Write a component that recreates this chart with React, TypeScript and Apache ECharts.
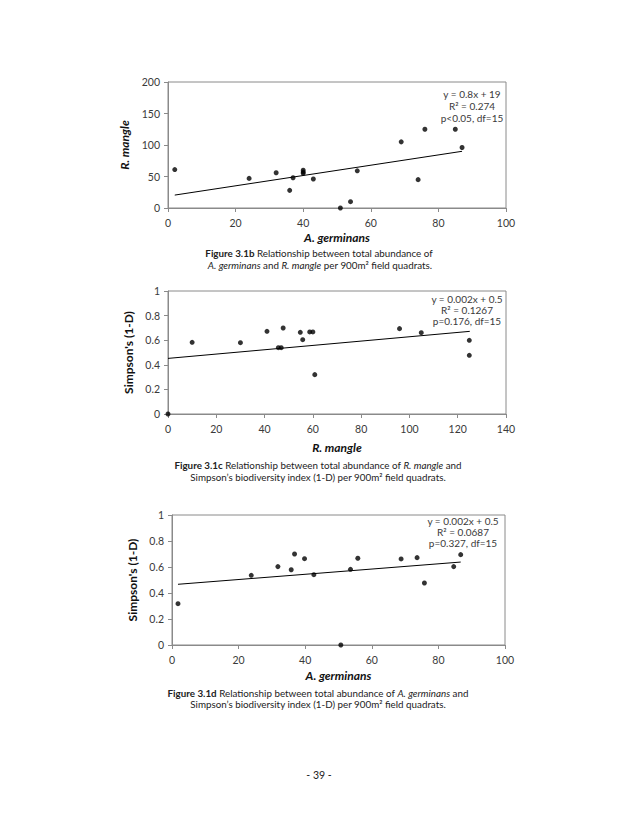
import React, { useEffect, useRef } from "react";
import * as echarts from "echarts";

// Figure 3.1b: A. germinans (x) vs R. mangle (y)
const fig1X = [2, 24, 32, 36, 37, 40, 40, 40, 43, 51, 54, 56, 69, 74, 76, 85, 87];
const fig1Y = [61, 47, 56, 28, 48, 60, 57, 55, 46, 0, 10, 59, 105, 45, 125, 125, 96];
const fig1Trend = [[2, 20.5], [87, 90]];
const fig1Stats = ["y = 0.8x + 19", "R² = 0.274", "p<0.05, df=15"];

// Figure 3.1c: R. mangle (x) vs Simpson's (1-D) (y)
const fig2X = [0, 10, 30, 41, 45.7, 46.9, 47.7, 54.8, 55.8, 58.7, 60, 60.8, 95.9, 104.9, 124.8, 124.8];
const fig2Y = [0, 0.583, 0.58, 0.672, 0.539, 0.539, 0.699, 0.664, 0.604, 0.667, 0.667, 0.32, 0.694, 0.661, 0.599, 0.477];
const fig2Trend = [[0, 0.452], [125, 0.672]];
const fig2Stats = ["y = 0.002x + 0.5", "R² = 0.1267", "p=0.176, df=15"];

// Figure 3.1d: A. germinans (x) vs Simpson's (1-D) (y)
const fig3X = [1.8, 23.8, 31.8, 35.8, 36.8, 39.8, 42.6, 50.7, 53.6, 55.8, 68.8, 73.6, 75.8, 84.6, 86.7];
const fig3Y = [0.318, 0.536, 0.603, 0.579, 0.7, 0.664, 0.541, 0, 0.582, 0.667, 0.662, 0.672, 0.477, 0.603, 0.695];
const fig3Trend = [[1.8, 0.467], [86.7, 0.638]];
const fig3Stats = ["y = 0.002x + 0.5", "R² = 0.0687", "p=0.327, df=15"];

const FONT = "Lato, 'Open Sans', sans-serif";
const AXIS_COLOR = "#8a8a8a";
const TEXT_COLOR = "#3a3a3a";

const pairs = (xs: number[], ys: number[]) => xs.map((x, i) => [x, ys[i]]);

function makeX(gridIndex: number, max: number, interval: number, name: string, nameGap: number) {
  return {
    type: "value",
    gridIndex,
    min: 0,
    max,
    interval,
    name,
    nameLocation: "middle",
    nameGap,
    nameTextStyle: { fontFamily: FONT, fontSize: 12, fontWeight: "bold", fontStyle: "italic", color: "#111" },
    axisLine: { show: true, onZero: false, lineStyle: { color: AXIS_COLOR, width: 1 } },
    axisTick: { show: true, length: 4, lineStyle: { color: AXIS_COLOR } },
    axisLabel: { fontFamily: FONT, fontSize: 10.5, color: TEXT_COLOR, margin: 9 },
    splitLine: { show: false },
  };
}

function makeY(gridIndex: number, max: number, interval: number, name: string, nameGap: number, italic: boolean) {
  return {
    type: "value",
    gridIndex,
    min: 0,
    max,
    interval,
    name,
    nameLocation: "middle",
    nameRotate: 90,
    nameGap,
    nameTextStyle: { fontFamily: FONT, fontSize: 12, fontWeight: "bold", fontStyle: italic ? "italic" : "normal", color: "#111" },
    axisLine: { show: true, onZero: false, lineStyle: { color: AXIS_COLOR, width: 1 } },
    axisTick: { show: true, length: 4, lineStyle: { color: AXIS_COLOR } },
    axisLabel: { fontFamily: FONT, fontSize: 10.5, color: TEXT_COLOR, margin: 8 },
    splitLine: { show: false },
  };
}

function scatter(i: number, xs: number[], ys: number[]) {
  return {
    type: "scatter",
    xAxisIndex: i,
    yAxisIndex: i,
    symbol: "circle",
    symbolSize: 5,
    itemStyle: { color: "#000" },
    data: pairs(xs, ys),
    z: 3,
  };
}

function trend(i: number, pts: number[][]) {
  return {
    type: "line",
    xAxisIndex: i,
    yAxisIndex: i,
    data: pts,
    showSymbol: false,
    symbol: "none",
    lineStyle: { color: "#000", width: 1 },
    z: 2,
  };
}

function statText(lines: string[], cx: number, y0: number, step: number) {
  return lines.map((t, k) => ({
    type: "text",
    x: cx,
    y: y0 + k * step,
    style: { text: t, align: "center", verticalAlign: "middle", fontFamily: FONT, fontSize: 10, fill: TEXT_COLOR },
  }));
}

const CAP = 9.8;
const capBase = { fontFamily: FONT, fontSize: CAP, fill: "#222" };
const capRich = {
  b: { fontFamily: FONT, fontSize: CAP, fontWeight: "bold", color: "#222" },
  i: { fontFamily: FONT, fontSize: CAP, fontStyle: "italic", color: "#222" },
  n: { fontFamily: FONT, fontSize: CAP, color: "#222" },
};

function caption(text: string, cx: number, y: number) {
  return {
    type: "text",
    x: cx,
    y,
    style: { ...capBase, text, align: "center", verticalAlign: "middle", rich: capRich },
  };
}

export default function App() {
  const ref = useRef<HTMLDivElement>(null);
  useEffect(() => {
    if (!ref.current) return;
    const chart = echarts.init(ref.current, null, { renderer: "svg" });
    chart.setOption({
      animation: false,
      backgroundColor: "#ffffff",
      grid: [
        { left: 168, top: 82, width: 338, height: 126, show: true, borderColor: AXIS_COLOR, borderWidth: 1, backgroundColor: "transparent" },
        { left: 168, top: 291, width: 338, height: 123, show: true, borderColor: AXIS_COLOR, borderWidth: 1, backgroundColor: "transparent" },
        { left: 172, top: 515, width: 333, height: 130, show: true, borderColor: AXIS_COLOR, borderWidth: 1, backgroundColor: "transparent" },
      ],
      xAxis: [
        makeX(0, 100, 20, "A. germinans", 23),
        makeX(1, 140, 20, "R. mangle", 27),
        makeX(2, 100, 20, "A. germinans", 24),
      ],
      yAxis: [
        makeY(0, 200, 50, "R. mangle", 30, true),
        makeY(1, 1, 0.2, "Simpson's (1-D)", 31, false),
        makeY(2, 1, 0.2, "Simpson's (1-D)", 28, false),
      ],
      series: [
        scatter(0, fig1X, fig1Y),
        trend(0, fig1Trend),
        scatter(1, fig2X, fig2Y),
        trend(1, fig2Trend),
        scatter(2, fig3X, fig3Y),
        trend(2, fig3Trend),
      ],
      graphic: [
        ...statText(fig1Stats, 472, 94, 12),
        ...statText(fig2Stats, 467, 299, 11),
        ...statText(fig3Stats, 463, 521, 11),
        caption("{b|Figure 3.1b} {n|Relationship between total abundance of}", 319, 253),
        caption("{i|A. germinans} {n|and} {i|R. mangle} {n|per 900m² field quadrats.}", 320, 265),
        caption("{b|Figure 3.1c} {n|Relationship between total abundance of} {i|R. mangle} {n|and}", 318, 465),
        caption("{n|Simpson’s biodiversity index (1-D) per 900m² field quadrats.}", 318, 477),
        caption("{b|Figure 3.1d} {n|Relationship between total abundance of} {i|A. germinans} {n|and}", 318, 693),
        caption("{n|Simpson’s biodiversity index (1-D) per 900m² field quadrats.}", 318, 704),
        {
          type: "text",
          x: 319,
          y: 775,
          style: { text: "- 39 -", align: "center", verticalAlign: "middle", fontFamily: FONT, fontSize: 10.5, fill: "#222" },
        },
      ],
    });
    return () => chart.dispose();
  }, []);
  return (
    <div
      ref={ref}
      style={{ position: "fixed", left: 0, top: 0, width: 638, height: 826, background: "#fff" }}
    />
  );
}
